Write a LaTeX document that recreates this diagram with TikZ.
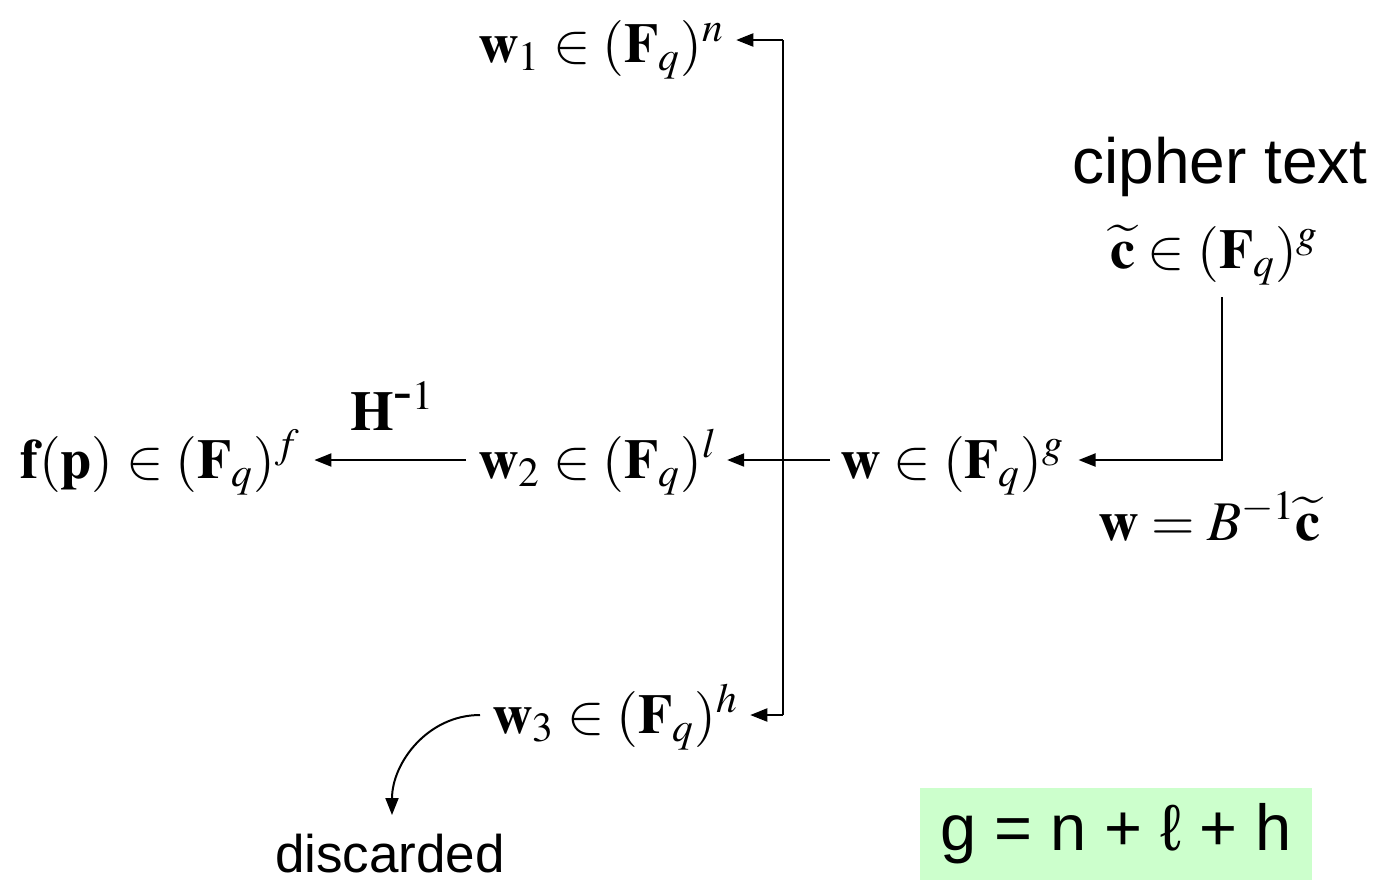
\documentclass[tikz,border=0pt]{standalone}
\usepackage{mathptmx}
\usepackage[no-math]{fontspec}
\setmainfont{Liberation Serif}
\setsansfont{Liberation Sans}
\usetikzlibrary{arrows.meta}

\definecolor{relgreen}{RGB}{204,255,204}

\tikzset{
  vec/.style={inner sep=0pt, anchor=base west, font=\fontsize{28}{32}\selectfont},
  lbl/.style={inner sep=0pt, anchor=base, font=\sffamily\fontsize{32}{36}\selectfont},
  flow/.style={-{Triangle[length=8.5pt,width=6.5pt]}, line width=1pt},
  relbox/.style={fill=relgreen, minimum width=196pt, minimum height=46pt,
                 font=\sffamily\fontsize{32.5}{36}\selectfont}
}

\begin{document}
\begin{tikzpicture}[x=0.5pt,y=-0.5pt]
\useasboundingbox (0,0) rectangle (1384,884);

% =====================================================================
% Vectors (placed at text baseline, pixel units of the reference)
% =====================================================================
\node[vec] (w1)   at (478,62)  {$\mathbf{w}_1\in(\mathbf{F}_q)^n$};
\node[vec] (w2)   at (478,478) {$\mathbf{w}_2\in(\mathbf{F}_q)^l$};
\node[vec] (w3)   at (492,733) {$\mathbf{w}_3\in(\mathbf{F}_q)^h$};
\node[vec] (w)    at (840,478) {$\mathbf{w}\in(\mathbf{F}_q)^g$};
\node[vec] (fp)   at (20,478)  {$\mathbf{f}(\mathbf{p})\in(\mathbf{F}_q)^f$};
\node[vec] (Hinv) at (350,430) {$\mathbf{H}^{\textrm{-}1}$};

% cipher text and its relation to w
\node[lbl] (cipher) at (1220,183) {cipher text};
\node[vec] (ct)   at (1110,268) {$\widetilde{\mathbf{c}}\in(\mathbf{F}_q)^g$};
\node[vec] (wB)   at (1098,540) {$\mathbf{w}=B^{-1}\widetilde{\mathbf{c}}$};

% discarded part and size relation
\node[lbl, font=\sffamily\fontsize{26.5}{30}\selectfont] (disc) at (390,872) {discarded};
\node[relbox] (rel) at (1116,834) {g = n + ℓ + h};

% =====================================================================
% Connectors
% =====================================================================
\coordinate (jt)  at (783,40);
\coordinate (mid) at (783,460);
\coordinate (jb)  at (783,715);
\coordinate (cc)  at (1222,460);

% split of w into w1, w2, w3
\draw[line width=1pt] (jt) -- (jb);
\draw[flow] (jt) -- ([xshift=6pt]w1.east |- jt);
\draw[flow] (jb) -- ([xshift=6pt]w3.east |- jb);
\draw[flow] ([xshift=-5pt]w.west |- mid) -- ([xshift=5pt]w2.east |- mid);

% H^-1 : w2 -> f(p)
\draw[flow] ([xshift=-6pt]w2.west |- mid) -- ([xshift=7pt]fp.east |- mid);

% cipher text -> w
\draw[flow] ([yshift=-6pt]ct.south -| cc) -- (cc) -- ([xshift=7pt]w.east |- cc);

% w3 -> discarded
\draw[flow] ([xshift=-6pt]w3.west |- jb) to[out=180,in=90] (392,815);

\end{tikzpicture}
\end{document}
